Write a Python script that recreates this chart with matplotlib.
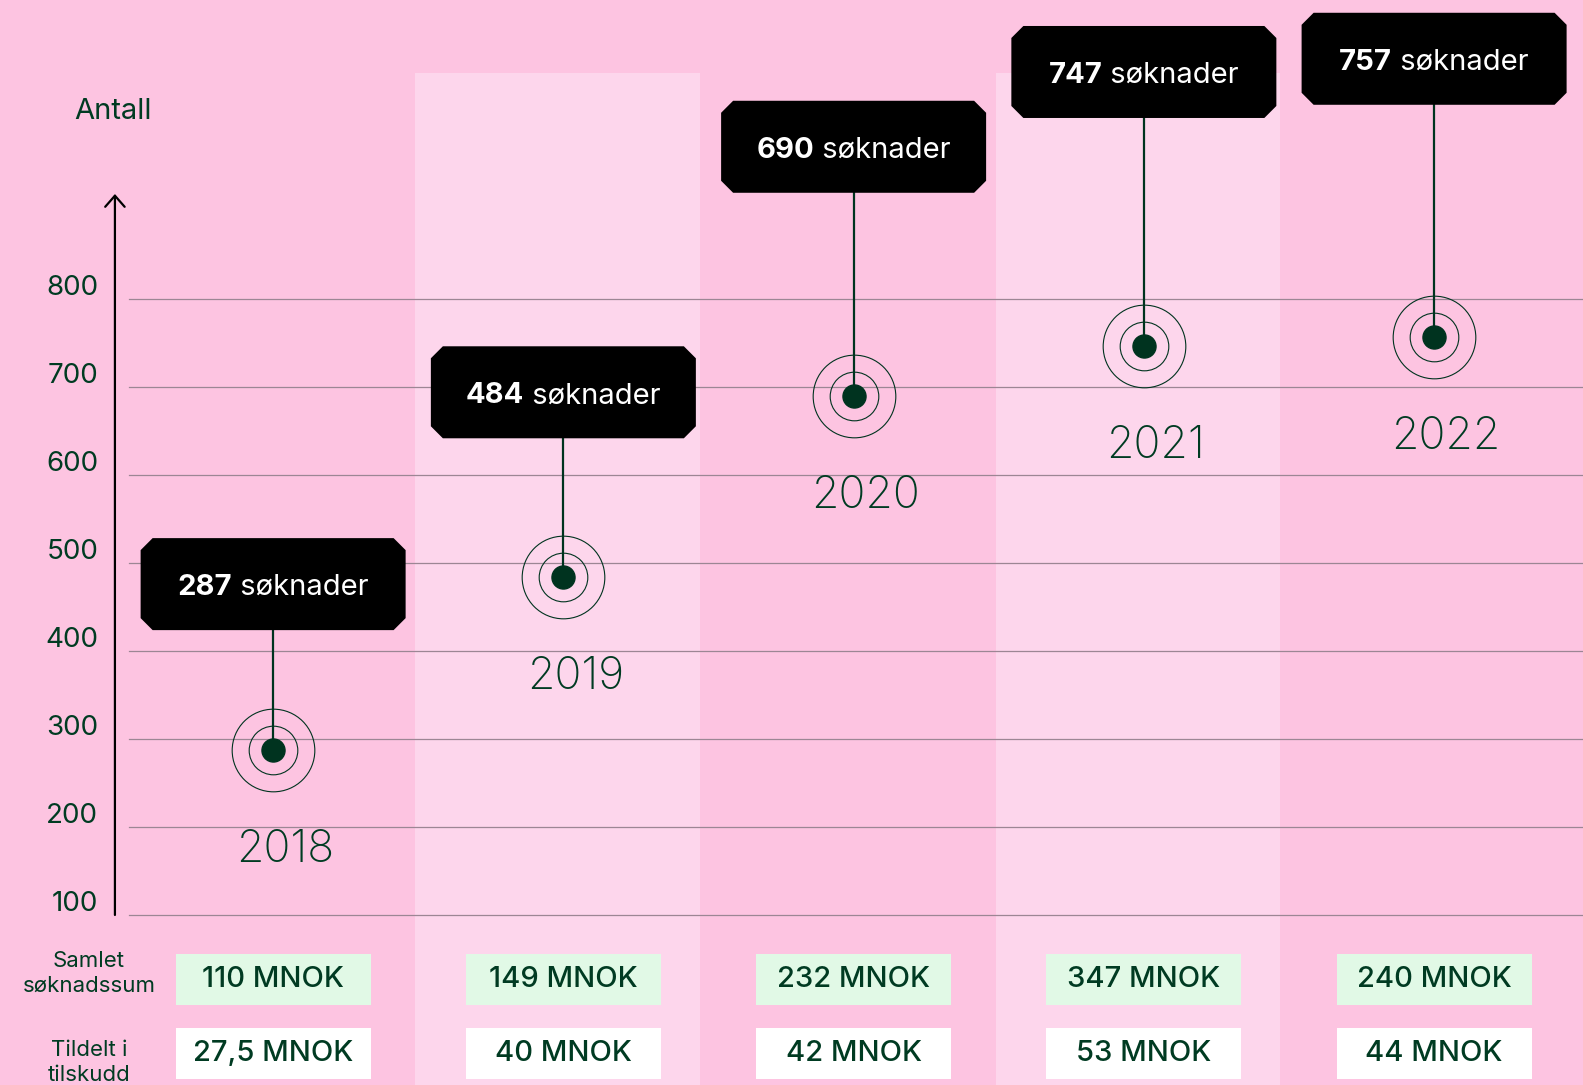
import matplotlib
matplotlib.use("Agg")
import matplotlib.pyplot as plt
import matplotlib.transforms as mtransforms
from matplotlib.patches import Polygon, Rectangle

plt.rcParams['font.family'] = ['Inter', 'DejaVu Sans']

# data
years = [2018, 2019, 2020, 2021, 2022]
soknader = [287, 484, 690, 747, 757]
soknadssum = ["110 MNOK", "149 MNOK", "232 MNOK", "347 MNOK", "240 MNOK"]
tildelt = ["27,5 MNOK", "40 MNOK", "42 MNOK", "53 MNOK", "44 MNOK"]
yticks = [100, 200, 300, 400, 500, 600, 700, 800]
row_labels = ["Samlet\nsøknadssum", "Tildelt i\ntilskudd"]

# layout: height of the label boxes (in axis units)
label_y = [476, 694, 973, 1058, 1073]

PINK = "#FDC4E1"
LIGHT = "#FDD6EC"
GREEN = "#003B22"
DOT = "#00331F"
MINT = "#E1F9E6"
GRID = "#9C8694"

fig = plt.figure(figsize=(15.83, 10.85), dpi=100)
fig.patch.set_facecolor(PINK)
ax = fig.add_axes([0, 0, 1, 1])
ax.set_facecolor(PINK)
ax.set_xlim(2017.059, 2022.513)
ax.set_ylim(-93.2, 1139.8)
ax.axis('off')

# lighter bands behind every second year
for yr in years[1::2]:
    ax.add_patch(Rectangle((yr - 0.51, -93.2), 0.98, 1057 + 93.2,
                           facecolor=LIGHT, edgecolor='none', zorder=0))

# gridlines + tick labels
ytrans = ax.get_yaxis_transform()
for v in yticks:
    ax.axhline(v, xmin=129 / 1583, xmax=1, color=GRID, lw=0.9, zorder=1)
    ax.text(0.062, v + 12, str(v), transform=ytrans, ha='right', va='center',
            fontsize=20, color=GREEN)

ax.text(0.0467, 0.8968, "Antall", transform=ax.transAxes, ha='left', va='center',
        fontsize=21, color=GREEN)

# y axis arrow
ax.annotate('', xy=(0.0726, 0.8212), xytext=(0.0726, 0.1567),
            xycoords='axes fraction',
            arrowprops=dict(arrowstyle='->, head_length=0.8, head_width=0.7',
                            color='black', lw=1.6, shrinkA=0, shrinkB=0,
                            mutation_scale=10))

# stems, dots, rings
ax.vlines(years, soknader, label_y, color=DOT, lw=1.6, zorder=4)
ax.plot(years, soknader, 'o', ms=16.6, color=DOT, zorder=6)
ax.plot(years, soknader, 'o', ms=35, mfc='none', mec=DOT, mew=0.8, zorder=6)
ax.plot(years, soknader, 'o', ms=59.5, mfc='none', mec=DOT, mew=0.8, zorder=6)


def octagon(w, h, c):
    return [(-w / 2 + c, -h / 2), (w / 2 - c, -h / 2), (w / 2, -h / 2 + c),
            (w / 2, h / 2 - c), (w / 2 - c, h / 2), (-w / 2 + c, h / 2),
            (-w / 2, h / 2 - c), (-w / 2, -h / 2 + c)]


renderer = fig.canvas.get_renderer()

for yr, n, ly in zip(years, soknader, label_y):
    trans = fig.dpi_scale_trans + mtransforms.ScaledTranslation(yr, ly, ax.transData)
    ax.add_patch(Polygon(octagon(2.65, 0.92, 0.12), closed=True, transform=trans,
                         facecolor='black', edgecolor='none', zorder=5))
    t1 = ax.annotate(str(n), (yr, ly), xytext=(0, 0), textcoords='offset pixels',
                     ha='left', va='baseline', fontsize=21, fontweight='bold',
                     color='white', zorder=7)
    t2 = ax.annotate(" søknader", (yr, ly), xytext=(0, 0), textcoords='offset pixels',
                     ha='left', va='baseline', fontsize=21, color='white', zorder=7)
    w1 = t1.get_window_extent(renderer).width
    w2 = t2.get_window_extent(renderer).width
    t1.xyann = (-(w1 + w2) / 2, -11)
    t2.xyann = (-(w1 + w2) / 2 + w1, -11)

    # year label
    ax.annotate(str(yr), (yr, n), xytext=(12, -100), textcoords='offset pixels',
                ha='center', va='center', fontsize=32, fontweight='light',
                color=GREEN, zorder=6)

# table at the bottom
xtrans = ax.get_xaxis_transform()
row_y = [0.0972, 0.0290]
row_fill = [MINT, 'white']
for ry, fill, vals in zip(row_y, row_fill, [soknadssum, tildelt]):
    for yr, s in zip(years, vals):
        trans = fig.dpi_scale_trans + mtransforms.ScaledTranslation(yr, ry, xtrans)
        ax.add_patch(Rectangle((-0.975, -0.255), 1.95, 0.51, transform=trans,
                               facecolor=fill, edgecolor='none', zorder=5))
        ax.text(yr, ry, s, transform=xtrans, ha='center', va='center',
                fontsize=21, fontweight='medium', color=GREEN, zorder=6)

ax.text(0.0562, 0.1032, row_labels[0], transform=ax.transAxes, ha='center',
        va='center', fontsize=16, color=GREEN, linespacing=1.3)
ax.text(0.0562, 0.021, row_labels[1], transform=ax.transAxes, ha='center',
        va='center', fontsize=16, color=GREEN, linespacing=1.3)

fig.savefig("out.png", dpi=100, facecolor=fig.get_facecolor())
